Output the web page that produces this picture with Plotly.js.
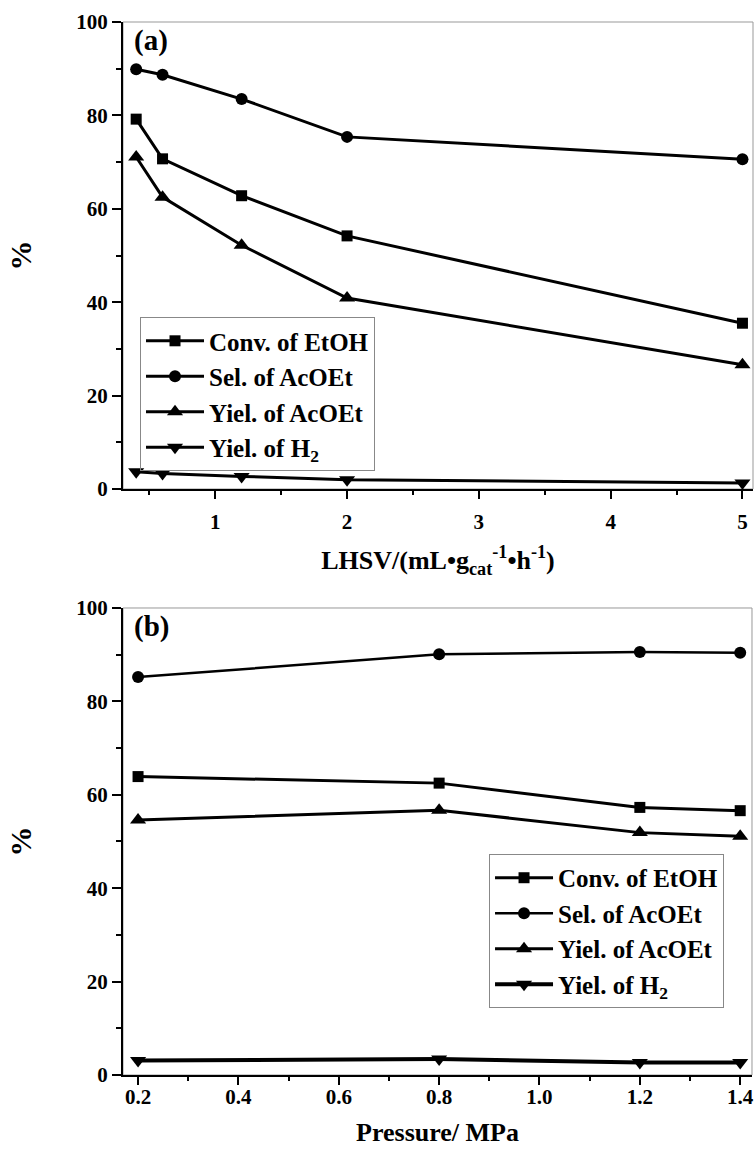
<!DOCTYPE html>
<html>
<head>
<meta charset="utf-8">
<script src="https://cdn.plot.ly/plotly-3.0.1.min.js"></script>
<style>html,body{margin:0;padding:0;background:#fff;}#chart{width:755px;height:1154px;}</style>
</head>
<body>
<div id="chart"></div>
<script>
// Panel (a): LHSV series
const lhsv = [0.4, 0.6, 1.2, 2, 5];
const convA = [79.2, 70.7, 62.8, 54.2, 35.5];
const selA = [89.9, 88.7, 83.5, 75.4, 70.6];
const yieldA = [71.1, 62.5, 52.2, 40.9, 26.6];
const h2A = [3.7, 3.3, 2.7, 2.0, 1.3];

// Panel (b): pressure series
const pressure = [0.2, 0.8, 1.2, 1.4];
const convB = [63.9, 62.5, 57.3, 56.6];
const selB = [85.2, 90.1, 90.6, 90.4];
const yieldB = [54.6, 56.7, 51.9, 51.1];
const h2B = [3.1, 3.4, 2.7, 2.7];

const seriesNames = ['Conv. of EtOH', 'Sel. of AcOEt', 'Yiel. of AcOEt', 'Yiel. of H<sub>2</sub>'];
const symbols = ['square', 'circle', 'triangle-up', 'triangle-down'];
const markerSizes = [11, 12, 14, 14];

const FONT = 'Liberation Serif, Times New Roman, serif';

function mk(x, y, i, xa, ya, legend, lw) {
  return {
    x: x, y: y, type: 'scatter', mode: 'lines+markers',
    name: seriesNames[i], xaxis: xa, yaxis: ya, legend: legend,
    line: {color: '#000', width: lw},
    marker: {symbol: symbols[i], size: markerSizes[i], color: '#000'}
  };
}

const data = [
  mk(lhsv, convA, 0, 'x', 'y', 'legend', 3),
  mk(lhsv, selA, 1, 'x', 'y', 'legend', 3),
  mk(lhsv, yieldA, 2, 'x', 'y', 'legend', 3),
  mk(lhsv, h2A, 3, 'x', 'y', 'legend', 3),
  mk(pressure, convB, 0, 'x2', 'y2', 'legend2', 3),
  mk(pressure, selB, 1, 'x2', 'y2', 'legend2', 2.5),
  mk(pressure, yieldB, 2, 'x2', 'y2', 'legend2', 3),
  mk(pressure, h2B, 3, 'x2', 'y2', 'legend2', 4)
];

const tickFont = {family: FONT, size: 21, color: '#000', weight: 'bold'};
const titleFont = {family: FONT, size: 26, color: '#000', weight: 'bold'};

function yax(domain, anchor) {
  return {
    domain: domain, anchor: anchor, range: [0, 100], dtick: 20, tick0: 0,
    showgrid: false, zeroline: false, showline: true, linecolor: '#000', linewidth: 2,
    ticks: 'outside', ticklen: 9, tickwidth: 2, tickcolor: '#000',
    minor: {dtick: 10, ticks: 'outside', ticklen: 5, tickwidth: 2, tickcolor: '#000'},
    tickfont: tickFont,
    title: {text: '%', font: {family: FONT, size: 30, color: '#000', weight: 'bold'}, standoff: 36}
  };
}

const legendCommon = {
  font: {family: FONT, size: 25, color: '#000', weight: 'bold'},
  bgcolor: 'rgba(255,255,255,0)', bordercolor: '#888', borderwidth: 1,
  xanchor: 'left', yanchor: 'top', itemwidth: 58, tracegroupgap: 0
};

const layout = {
  width: 755, height: 1154,
  margin: {l: 123, r: 2, t: 22, b: 79},
  paper_bgcolor: '#fff', plot_bgcolor: '#fff',
  font: {family: FONT, color: '#000', weight: 'bold'},
  xaxis: {
    domain: [0, 1], anchor: 'y', range: [0.3, 5.08], dtick: 1, tick0: 0,
    showgrid: false, zeroline: false, showline: true, linecolor: '#000', linewidth: 2,
    ticks: 'outside', ticklen: 8, tickwidth: 2, tickcolor: '#000', ticklabelstandoff: 5,
    minor: {dtick: 0.5, tick0: 0, ticks: 'outside', ticklen: 4, tickwidth: 2, tickcolor: '#000'},
    tickfont: tickFont,
    title: {text: 'LHSV/(mL•g<sub>cat</sub><sup>-1</sup>•h<sup>-1</sup>)', font: titleFont, standoff: 18}
  },
  yaxis: yax([0.5565, 1], 'x'),
  xaxis2: {
    domain: [0, 0.9984], anchor: 'y2', range: [0.17, 1.4235], dtick: 0.2, tick0: 0.2, tickformat: '.1f',
    showgrid: false, zeroline: false, showline: true, linecolor: '#000', linewidth: 2,
    ticks: 'outside', ticklen: 8, tickwidth: 2, tickcolor: '#000', ticklabelstandoff: -6,
    minor: {dtick: 0.1, tick0: 0.2, ticks: 'outside', ticklen: 4, tickwidth: 2, tickcolor: '#000'},
    tickfont: tickFont,
    title: {text: 'Pressure/ MPa', font: titleFont, standoff: 15}
  },
  yaxis2: yax([0, 0.4435], 'x2'),
  showlegend: true,
  legend: Object.assign({x: 0.027, y: 0.7198}, legendCommon),
  legend2: Object.assign({x: 0.581, y: 0.2099}, legendCommon),
  shapes: [
    {type: 'rect', xref: 'x domain', yref: 'y domain', x0: 0, x1: 1, y0: 0, y1: 1, line: {color: '#999', width: 1}, layer: 'below'},
    {type: 'rect', xref: 'x2 domain', yref: 'y2 domain', x0: 0, x1: 1, y0: 0, y1: 1, line: {color: '#999', width: 1}, layer: 'below'}
  ],
  annotations: [
    {text: '(a)', xref: 'x domain', yref: 'y domain', x: 0.014, y: 1.0, xanchor: 'left', yanchor: 'top', showarrow: false,
     font: {family: FONT, size: 29, color: '#000', weight: 'bold'}},
    {text: '(b)', xref: 'x2 domain', yref: 'y2 domain', x: 0.014, y: 1.0, xanchor: 'left', yanchor: 'top', showarrow: false,
     font: {family: FONT, size: 29, color: '#000', weight: 'bold'}}
  ]
};

Plotly.newPlot('chart', data, layout, {displayModeBar: false, staticPlot: true});
</script>
</body>
</html>
